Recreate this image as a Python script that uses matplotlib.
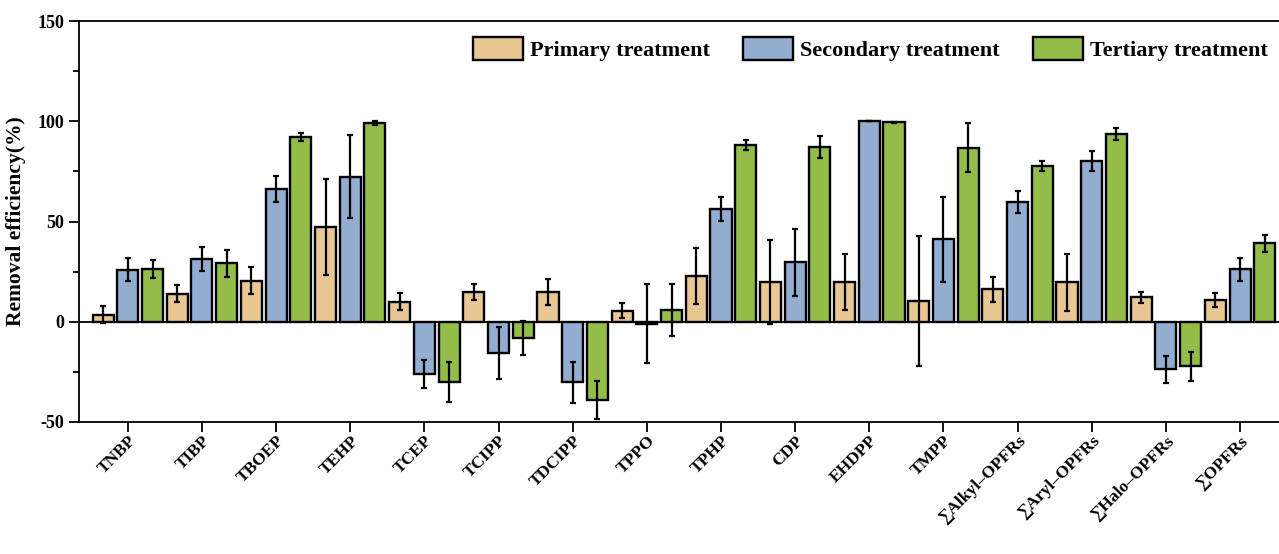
import numpy as np
import matplotlib
matplotlib.use("Agg")
import matplotlib.pyplot as plt
from matplotlib.ticker import MultipleLocator

categories = ["TNBP", "TIBP", "TBOEP", "TEHP", "TCEP", "TCIPP", "TDCIPP", "TPPO",
              "TPHP", "CDP", "EHDPP", "TMPP", "∑Alkyl\u2013OPFRs", "∑Aryl\u2013OPFRs",
              "∑Halo\u2013OPFRs", "∑OPFRs"]

primary = [3.5, 14.0, 20.4, 47.2, 10.0, 14.6, 14.7, 5.6, 22.8, 20.0, 20.0, 10.3, 16.1, 19.6, 12.3, 10.8]
primary_err = [4.2, 4.2, 6.8, 23.8, 4.2, 4.0, 6.4, 3.7, 14.0, 21.0, 14.0, 32.4, 6.3, 14.2, 2.7, 3.4]

secondary = [26.0, 31.3, 66.3, 72.2, -26.2, -15.5, -30.2, -1.0, 56.1, 29.6, 100.0, 41.1, 59.6, 80.1, -23.7, 26.1]
secondary_err = [5.9, 5.8, 6.4, 20.7, 7.0, 13.0, 10.2, 19.7, 6.0, 16.7, 0.0, 21.3, 5.4, 5.0, 6.8, 5.8]

tertiary = [26.1, 29.1, 92.1, 99.1, -29.9, -8.0, -38.9, 5.8, 88.1, 87.0, 99.4, 86.8, 77.8, 93.6, -22.3, 39.1]
tertiary_err = [4.5, 6.7, 2.0, 0.8, 10.0, 8.5, 9.4, 12.8, 2.5, 5.5, 0.3, 12.3, 2.6, 3.2, 7.1, 4.1]

series_names = ["Primary treatment", "Secondary treatment", "Tertiary treatment"]
colors = ["#E8C795", "#93ADD1", "#93BD48"]

plt.rcParams['font.family'] = ['Liberation Serif', 'DejaVu Serif']
plt.rcParams['font.weight'] = 'bold'
plt.rcParams['axes.unicode_minus'] = False

fig = plt.figure(figsize=(12.79, 5.54), dpi=100)
ax = fig.add_axes([79/1279, 1 - 422/554, 1 - 79/1279 + 0.002, (422 - 21)/554])

x = np.arange(len(categories))
offset = 1/3
width = 0.284
data = [(primary, primary_err), (secondary, secondary_err), (tertiary, tertiary_err)]
for i, ((vals, errs), name, c) in enumerate(zip(data, series_names, colors)):
    pos = x + (i - 1) * offset
    ax.bar(pos, vals, width=width, color=c, edgecolor='black', linewidth=1.7,
           label=name, zorder=2)
    ax.errorbar(pos, vals, yerr=errs, fmt='none', ecolor='black', elinewidth=1.6,
                capsize=2.5, capthick=1.6, zorder=3)

ax.axhline(0, color='black', linewidth=1.3, zorder=4)
ax.set_ylim(-50, 150)
ax.set_xlim(-0.658, 15.56)
ax.yaxis.set_major_locator(MultipleLocator(50))
ax.yaxis.set_minor_locator(MultipleLocator(25))
ax.tick_params(axis='y', which='major', length=7, width=1.3, direction='out', labelsize=13)
ax.tick_params(axis='y', which='minor', length=4, width=1.3, direction='out')
ax.tick_params(axis='x', which='major', length=7, width=1.3, direction='out', labelsize=12.5, pad=1)
ax.set_xticks(x)
ax.set_xticklabels(categories, rotation=45, ha='right', rotation_mode='anchor')
for lab in ax.get_xticklabels() + ax.get_yticklabels():
    lab.set_fontweight('bold')
for s in ['left', 'bottom', 'top']:
    ax.spines[s].set_linewidth(1.3)
ax.spines['right'].set_visible(False)

ax.set_ylabel("Removal efficiency(%)", fontsize=15.5, fontweight='bold', labelpad=8)

leg = ax.legend(loc='center right', ncol=3, frameon=False,
                prop={'weight': 'bold', 'size': 16},
                handlelength=2.25, handleheight=1.2, columnspacing=1.5,
                handletextpad=0.32, borderpad=0, borderaxespad=0,
                bbox_to_anchor=(0.989, 0.930))
for h in leg.legend_handles:
    h.set_linewidth(1.7)

fig.savefig("out.png", dpi=100)
